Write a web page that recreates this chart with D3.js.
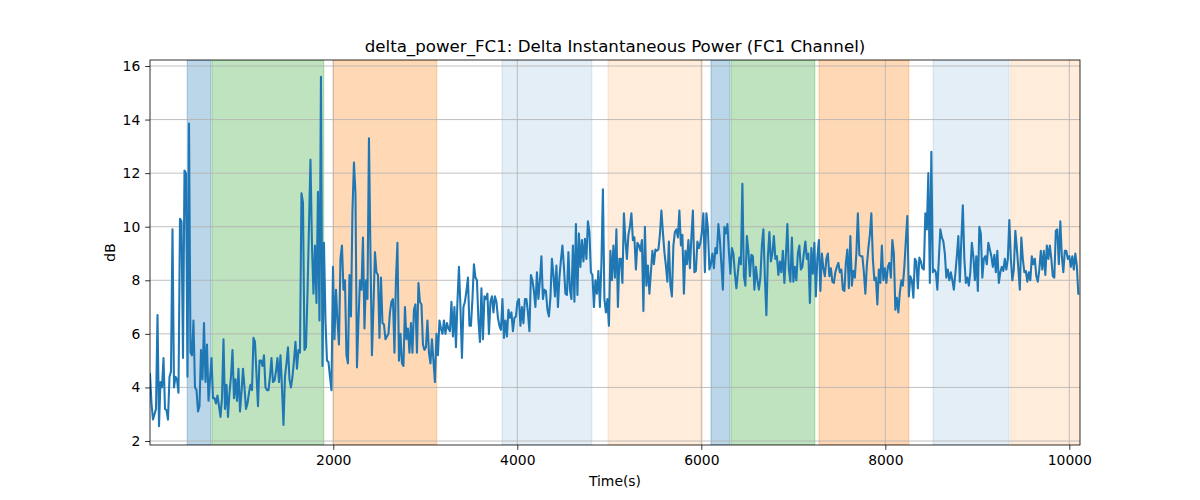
<!DOCTYPE html>
<html>
<head>
<meta charset="utf-8">
<script src="https://cdn.jsdelivr.net/npm/d3@7"></script>
<style>
  html, body { margin: 0; padding: 0; background: #fff; }
  svg { display: block; font-family: "DejaVu Sans", sans-serif; }
</style>
</head>
<body>
<svg id="chart" width="1200" height="500"></svg>
<script>
// ---------------- data ----------------
const chartTitle = "delta_power_FC1: Delta Instantaneous Power (FC1 Channel)";
const xLabel = "Time(s)";
const yLabel = "dB";
const xDomain = [8, 10116];
const yDomain = [1.851, 16.224];
const xTicks = [2000, 4000, 6000, 8000, 10000];
const yTicks = [2, 4, 6, 8, 10, 12, 14, 16];

// sample spacing (s) and first sample time
const t0 = 8;
const dt = 16.3;

// delta power (dB)
const powerDb = [
  4.5,3.4,2.8,3.0,3.2,6.7,2.55,4.2,4.0,5.1,3.2,3.15,2.8,4.4,4.6,9.9,4.0,4.4,4.3,3.8,
  10.3,10.2,5.1,12.1,12.0,4.4,13.85,5.3,5.2,6.5,4.0,3.9,3.1,3.3,5.4,4.3,6.4,4.2,5.6,3.5,
  4.3,5.1,3.6,3.6,3.4,3.7,3.3,2.9,3.6,5.8,3.2,4.1,2.9,3.8,4.4,5.4,3.6,4.3,3.5,4.7,
  3.1,3.8,4.7,4.0,3.2,3.4,3.8,4.1,3.9,5.85,5.7,4.5,3.3,5.0,5.0,4.8,5.2,4.0,
  3.9,3.9,4.4,5.1,4.2,4.25,4.6,5.1,4.2,5.2,4.0,2.6,4.4,4.9,5.5,4.3,4.0,4.4,5.0,5.7,
  4.7,5.4,5.3,11.25,10.9,5.4,5.5,7.5,10.0,12.5,9.3,7.5,9.3,7.15,11.3,6.5,15.6,4.8,9.4,6.5,
  5.0,4.95,4.4,3.9,8.5,5.8,7.65,6.5,5.6,8.8,9.3,7.65,8.0,5.2,4.9,8.2,6.65,10.6,12.4,11.25,
  4.75,6.5,8.0,7.65,9.6,6.2,8.0,7.3,13.3,9.0,5.2,7.0,9.05,8.3,8.2,5.85,8.1,
  6.4,6.35,5.8,5.9,6.0,6.8,7.2,7.3,5.3,8.0,9.4,5.0,6.0,4.9,4.8,7.0,5.8,6.2,5.3,6.4,
  5.3,6.9,7.1,5.3,7.9,7.2,7.1,5.6,5.4,5.5,6.5,5.3,4.9,5.8,5.0,4.2,6.0,5.2,6.5,6.2,
  6.0,6.5,6.0,6.4,6.2,6.1,7.2,5.9,7.0,5.5,7.2,8.5,7.0,5.1,7.0,7.2,7.6,8.1,6.3,6.3,
  7.3,8.6,8.1,8.0,6.5,5.7,7.7,5.8,7.4,7.3,7.5,6.0,7.2,7.4,6.8,7.4,7.2,6.6,
  6.3,6.15,7.3,5.85,6.5,5.9,6.9,6.6,6.8,6.1,6.6,6.65,7.2,7.3,6.3,7.0,6.4,7.3,7.3,6.8,
  6.1,8.2,8.0,7.6,7.0,8.3,7.3,8.0,8.9,7.3,7.65,7.6,6.9,6.65,7.35,8.8,8.2,7.4,8.55,7.0,
  8.1,8.75,9.3,8.5,7.5,7.45,9.05,7.65,7.3,9.3,7.2,10.1,7.45,9.75,8.5,9.5,8.7,9.55,8.8,10.2,
  9.8,8.3,8.2,7.0,8.0,7.5,8.35,7.0,8.6,11.4,7.3,6.8,7.3,6.3,9.1,8.0,9.3,8.1,9.9,
  7.0,8.8,8.8,7.9,10.5,9.5,8.8,9.7,10.0,10.5,9.5,9.6,8.4,9.4,9.3,9.1,9.5,6.85,10.0,7.8,
  8.55,7.5,8.3,9.1,8.6,9.15,9.1,9.15,9.7,10.6,9.8,9.05,8.55,7.95,9.45,7.8,7.4,9.3,9.8,9.9,
  9.6,10.6,9.3,9.7,7.5,9.1,8.6,9.5,8.45,9.6,10.6,8.3,8.35,9.45,9.2,9.4,9.8,10.5,8.3,10.5,
  9.95,8.4,8.6,9.0,8.45,9.2,9.0,10.1,9.5,8.6,7.65,10.0,9.75,10.1,9.1,8.25,9.2,9.0,
  8.25,7.7,8.3,8.85,8.6,11.6,8.15,7.8,9.65,9.1,8.15,8.95,8.9,7.65,8.5,8.0,7.65,8.1,9.3,9.9,
  8.1,6.7,8.85,9.8,8.7,9.0,9.65,8.8,8.9,8.2,8.7,8.3,9.1,7.9,8.9,10.1,8.4,7.95,9.6,7.95,
  8.5,8.0,9.0,9.3,8.4,8.5,9.0,9.45,8.8,9.0,7.15,9.2,8.25,9.4,7.4,8.85,9.5,7.6,9.0,8.45,
  8.15,8.8,9.0,8.15,8.45,7.95,7.9,8.3,8.5,8.65,8.3,8.4,7.65,7.6,8.65,9.15,7.7,9.65,
  7.8,8.35,8.1,9.0,10.5,8.95,8.9,8.9,8.3,7.5,8.55,9.2,9.7,10.5,8.8,8.0,8.1,7.1,8.4,7.9,
  9.3,8.0,8.45,7.9,8.5,8.65,8.1,9.5,9.0,6.9,7.35,6.8,7.55,8.0,7.8,8.5,9.5,10.4,7.4,8.15,
  8.0,7.35,8.8,8.7,7.7,8.85,8.7,8.45,8.4,10.5,9.9,12.0,7.9,12.8,8.3,8.4,8.3,7.65,8.8,9.9,
  9.6,9.45,9.0,8.1,8.4,8.0,8.3,8.0,7.65,8.25,8.9,9.65,7.95,9.5,10.8,8.8,7.9,8.1,
  7.8,8.3,9.4,8.9,8.0,8.9,7.6,10.0,9.75,8.1,8.8,8.9,8.6,9.4,9.15,8.9,8.5,8.95,8.3,9.1,
  7.9,8.3,8.5,8.35,8.8,8.4,8.8,10.25,8.8,8.0,8.4,9.85,9.2,8.45,7.65,9.6,8.8,8.3,8.35,7.95,
  8.3,8.0,8.9,8.6,8.8,8.15,7.95,8.4,9.1,8.4,9.1,8.2,9.3,8.8,9.3,8.8,8.15,8.1,9.85,9.9,
  8.6,10.2,8.9,8.3,9.1,9.1,8.8,8.9,8.5,8.9,8.4,9.0,8.55,7.5
];

// shaded intervals
const spanStart = [413, 681, 2000, 3834, 4986, 6106, 6323, 7280, 8519, 9363];
const spanEnd   = [667, 1896, 3124, 4809, 6011, 6309, 7233, 8255, 9345, 10116];
const spanColor = ["#1f77b4", "#2ca02c", "#ff7f0e", "#1f77b4", "#ff7f0e",
                   "#1f77b4", "#2ca02c", "#ff7f0e", "#1f77b4", "#ff7f0e"];
const spanAlpha = [0.3, 0.3, 0.3, 0.12, 0.15, 0.3, 0.3, 0.3, 0.12, 0.15];

// ---------------- drawing ----------------
(function () {
const W = 1200, H = 500;
const mLeft = 150, mRight = 1080, mTop = 60, mBottom = 445;

const svg = d3.select("#chart");
const x = d3.scaleLinear().domain(xDomain).range([mLeft, mRight]);
const y = d3.scaleLinear().domain(yDomain).range([mBottom, mTop]);

const points = powerDb.map((v, i) => ({ t: t0 + i * dt, v }));
const spans = spanStart.map((s, i) => ({ s, e: spanEnd[i], c: spanColor[i], a: spanAlpha[i] }));

svg.append("defs").append("clipPath").attr("id", "plotClip")
  .append("rect").attr("x", mLeft).attr("y", mTop).attr("width", mRight - mLeft).attr("height", mBottom - mTop);

const plot = svg.append("g").attr("clip-path", "url(#plotClip)");

// spans
plot.append("g").selectAll("rect").data(spans).join("rect")
  .attr("x", d => x(d.s))
  .attr("y", mTop)
  .attr("width", d => x(d.e) - x(d.s))
  .attr("height", mBottom - mTop)
  .attr("fill", d => d.c)
  .attr("fill-opacity", d => d.a)
  .attr("stroke", d => d.c)
  .attr("stroke-opacity", d => d.a)
  .attr("stroke-width", 1.2);

// grid
const grid = plot.append("g").attr("stroke", "#b0b0b0").attr("stroke-width", 0.8);
grid.selectAll("line.gx").data(xTicks).join("line").attr("class", "gx")
  .attr("x1", d => x(d)).attr("x2", d => x(d)).attr("y1", mTop).attr("y2", mBottom);
grid.selectAll("line.gy").data(yTicks).join("line").attr("class", "gy")
  .attr("x1", mLeft).attr("x2", mRight).attr("y1", d => y(d)).attr("y2", d => y(d));

// line
plot.append("path").datum(points)
  .attr("fill", "none")
  .attr("stroke", "#1f77b4")
  .attr("stroke-width", 2.08)
  .attr("stroke-linejoin", "round")
  .attr("stroke-linecap", "square")
  .attr("d", d3.line().x(d => x(d.t)).y(d => y(d.v)));

// axes
const xAxis = d3.axisBottom(x).tickValues(xTicks).tickFormat(d3.format("d")).tickSizeOuter(0).tickSize(4.86).tickPadding(4.86);
const yAxis = d3.axisLeft(y).tickValues(yTicks).tickFormat(d3.format("d")).tickSizeOuter(0).tickSize(4.86).tickPadding(4.86);

const gx = svg.append("g").attr("transform", `translate(0,${mBottom})`).call(xAxis);
const gy = svg.append("g").attr("transform", `translate(${mLeft},0)`).call(yAxis);
[gx, gy].forEach(g => {
  g.select(".domain").remove();
  g.selectAll(".tick line").attr("stroke", "#000").attr("stroke-width", 0.8);
  g.selectAll(".tick text").attr("fill", "#000").style("font-size", "13.9px").style("font-family", "DejaVu Sans");
});

// spines
svg.append("rect").attr("x", mLeft).attr("y", mTop).attr("width", mRight - mLeft).attr("height", mBottom - mTop)
  .attr("fill", "none").attr("stroke", "#000").attr("stroke-width", 0.8);

// labels
svg.append("text").attr("x", (mLeft + mRight) / 2).attr("y", 52)
  .attr("text-anchor", "middle").style("font-size", "16.67px").attr("fill", "#000").text(chartTitle);
svg.append("text").attr("x", (mLeft + mRight) / 2).attr("y", 486)
  .attr("text-anchor", "middle").style("font-size", "13.9px").attr("fill", "#000").text(xLabel);
svg.append("text").attr("transform", `translate(115,${(mTop + mBottom) / 2}) rotate(-90)`)
  .attr("text-anchor", "middle").style("font-size", "13.9px").attr("fill", "#000").text(yLabel);
})();
</script>
</body>
</html>
